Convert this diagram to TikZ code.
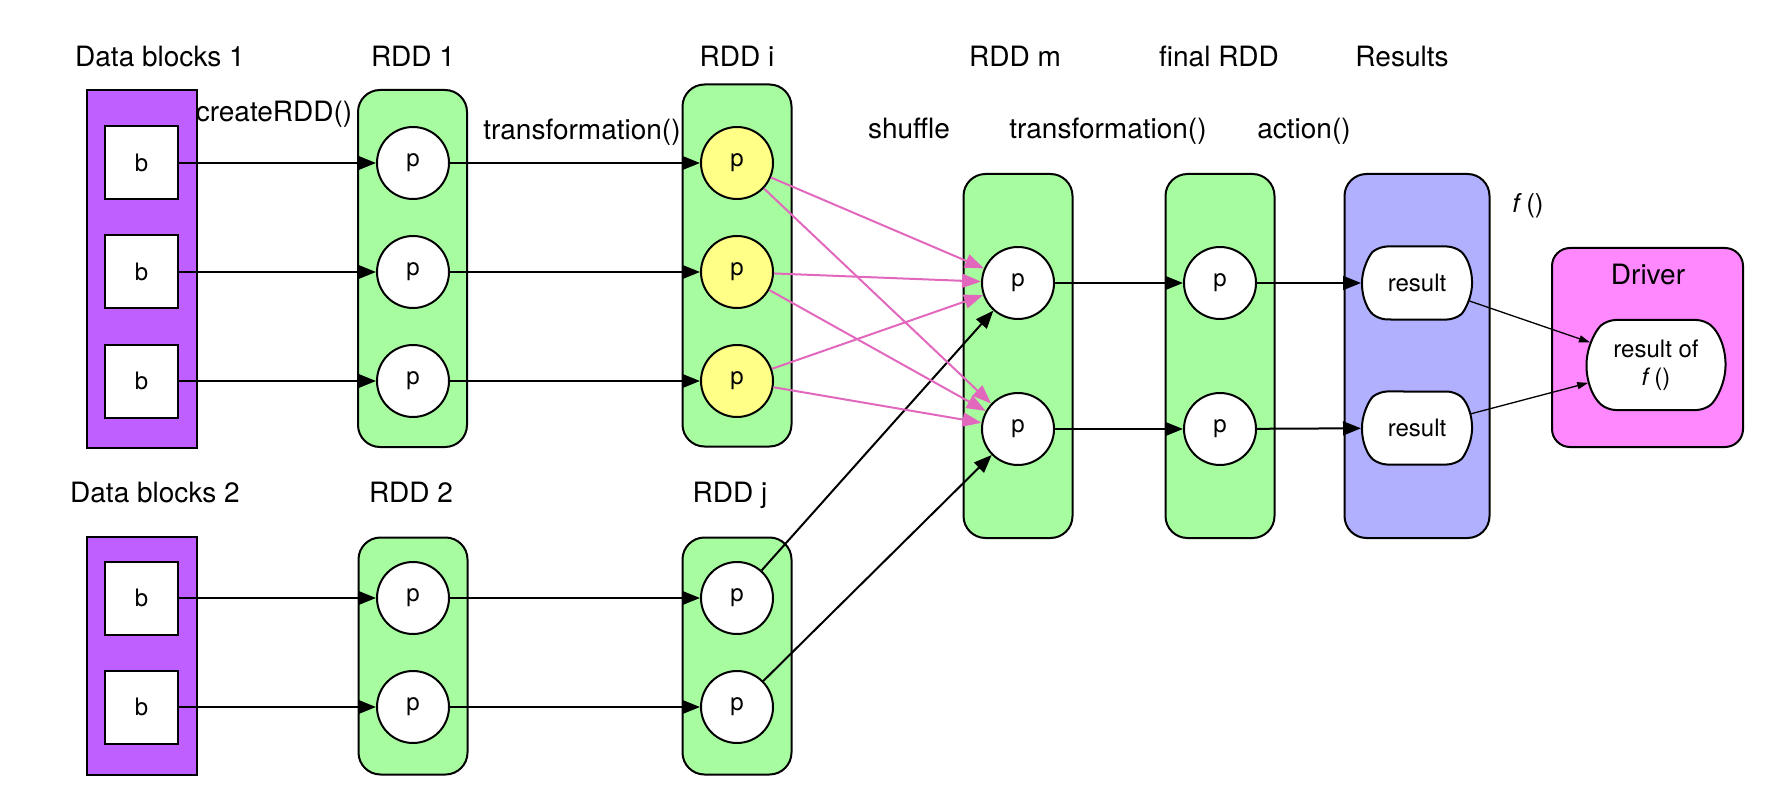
\documentclass[tikz,border=0pt]{standalone}
\usepackage{fontspec}
\setmainfont{TeX Gyre Heros}
\usetikzlibrary{shapes.misc,arrows.meta}
\definecolor{purp}{RGB}{191,95,255}
\definecolor{grn}{RGB}{168,252,160}
\definecolor{blu}{RGB}{176,176,255}
\definecolor{mag}{RGB}{255,136,255}
\definecolor{yel}{RGB}{255,255,136}
\definecolor{pnk}{RGB}{226,104,190}
\begin{document}
\begin{tikzpicture}[x=1pt,y=-1pt,
  datab/.style={draw, fill=purp, line width=2pt, minimum width=110pt, inner sep=0pt},
  blk/.style={draw, fill=white, line width=2pt, minimum size=73pt, inner sep=0pt, font=\fontsize{24}{28}\selectfont},
  rdd/.style={draw, fill=grn, rounded corners=22pt, line width=2pt, minimum width=109pt, inner sep=0pt},
  part/.style={circle, draw, fill=white, line width=2pt, minimum size=72pt, inner sep=0pt, font=\fontsize{24}{28}\selectfont},
  ypart/.style={part, fill=yel},
  resnode/.style={rounded rectangle, rounded rectangle arc length=100, rounded corners=8pt, draw, fill=white, line width=2pt, inner sep=0pt, align=center, font=\fontsize{24}{28}\selectfont},
  lbl/.style={anchor=base, inner sep=0pt, font=\fontsize{28}{33}\selectfont},
  arr/.style={-{Triangle[length=18pt,width=14pt]}, line width=2pt},
  parr/.style={-{Triangle[length=19pt,width=14pt]}, line width=2pt, draw=pnk, fill=pnk},
  tarr/.style={-{Triangle[length=11pt,width=7pt]}, line width=1.3pt}
]
\useasboundingbox (0,0) rectangle (1771,799);
% data blocks
\node[datab, minimum height=358pt] (db1) at (142,269) {};
\node[blk] (b11) at (141.5,163) {b};
\node[blk] (b12) at (141.5,272) {b};
\node[blk] (b13) at (141.5,381) {b};
\node[datab, minimum height=238pt] (db2) at (142,656) {};
\node[blk] (b21) at (141.5,598) {b};
\node[blk] (b22) at (141.5,707) {b};
% RDD 1, 2
\node[rdd, minimum height=357pt] (rdd1) at (412.5,268.5) {};
\node[part] (p11) at (413,163) {p};
\node[part] (p12) at (413,272) {p};
\node[part] (p13) at (413,381) {p};
\node[rdd, minimum height=237pt] (rdd2) at (413,656) {};
\node[part] (p21) at (413,598) {p};
\node[part] (p22) at (413,707) {p};
% RDD i, j
\node[rdd, minimum height=362pt] (rddi) at (737,265.5) {};
\node[ypart] (pi1) at (737,163) {p};
\node[ypart] (pi2) at (737,272) {p};
\node[ypart] (pi3) at (737,381) {p};
\node[rdd, minimum height=237pt] (rddj) at (737,656) {};
\node[part] (pj1) at (737,598) {p};
\node[part] (pj2) at (737,707) {p};
% RDD m, final
\node[rdd, minimum height=364pt] (rddm) at (1018,356) {};
\node[part] (pm1) at (1018,283) {p};
\node[part] (pm2) at (1018,429) {p};
\node[rdd, minimum height=364pt] (rddf) at (1220,356) {};
\node[part] (pf1) at (1220,283) {p};
\node[part] (pf2) at (1220,429) {p};
% results
\node[rdd, fill=blu, minimum width=145pt, minimum height=364pt] (resbox) at (1417,356) {};
\node[resnode, minimum width=110pt, minimum height=73pt] (res1) at (1417,283) {result};
\node[resnode, minimum width=110pt, minimum height=73pt] (res2) at (1417,428) {result};
% driver
\node[draw, fill=mag, rounded corners=18pt, line width=2pt, minimum width=191pt, minimum height=199pt, inner sep=0pt] (drv) at (1647.5,347.5) {};
\node[lbl] (drvl) at (1648,285) {Driver};
\node[resnode, minimum width=139pt, minimum height=90pt] (rof) at (1656,365) {result of\\\textit{f}\,()};
% labels
\node[lbl] (l1) at (160,67) {Data blocks 1};
\node[lbl] (l2) at (413,67) {RDD 1};
\node[lbl] (l3) at (737,67) {RDD i};
\node[lbl] (l4) at (1015,67) {RDD m};
\node[lbl] (l5) at (1219,67) {final RDD};
\node[lbl] (l6) at (1402,67) {Results};
\node[lbl] (l7) at (274,122) {createRDD()};
\node[lbl] (l8) at (582,140) {transformation()};
\node[lbl] (l9) at (909,139) {shuffle};
\node[lbl] (l10) at (1108,139) {transformation()};
\node[lbl] (l11) at (1304,139) {action()};
\node[lbl] (l12) at (155,502) {Data blocks 2};
\node[lbl] (l13) at (411,502) {RDD 2};
\node[lbl] (l14) at (730,502) {RDD j};
\node[lbl, font=\fontsize{26}{30}\selectfont] (l15) at (1528,213) {\textit{f}\,()};
% arrows
\draw[arr] (b11) -- (p11);
\draw[arr] (b12) -- (p12);
\draw[arr] (b13) -- (p13);
\draw[arr] (b21) -- (p21);
\draw[arr] (b22) -- (p22);
\draw[arr] (p11) -- (pi1);
\draw[arr] (p12) -- (pi2);
\draw[arr] (p13) -- (pi3);
\draw[arr] (p21) -- (pj1);
\draw[arr] (p22) -- (pj2);
\draw[arr] (pj1) -- (pm1);
\draw[arr] (pj2) -- (pm2);
\draw[parr] (pi1) -- (pm1);
\draw[parr] (pi1) -- (pm2);
\draw[parr] (pi2) -- (pm1);
\draw[parr] (pi2) -- (pm2);
\draw[parr] (pi3) -- (pm1);
\draw[parr] (pi3) -- (pm2);
\draw[arr] (pm1) -- (pf1);
\draw[arr] (pm2) -- (pf2);
\draw[arr] (pf1) -- (res1);
\draw[arr] (pf2) -- (res2);
\draw[tarr] (res1) -- (rof);
\draw[tarr] (res2) -- (rof);
\end{tikzpicture}
\end{document}
